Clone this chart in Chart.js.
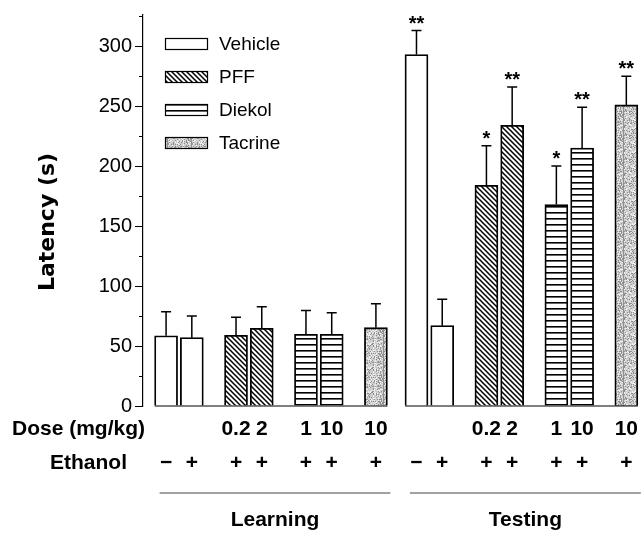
<!DOCTYPE html>
<html>
<head>
<meta charset="utf-8">
<script src="https://cdn.jsdelivr.net/npm/chart.js@4/dist/chart.umd.min.js"></script>
<style>
  html, body { margin: 0; padding: 0; background: #fff; }
</style>
</head>
<body>
<canvas id="latencyChart" width="644" height="533"></canvas>
<script>
var sections = ['Learning', 'Testing'];
var treatments = ['Vehicle', 'PFF', 'Diekol', 'Tacrine'];

// one entry per bar, left to right
var barSection = ['Learning', 'Learning', 'Learning', 'Learning', 'Learning', 'Learning', 'Learning',
                  'Testing', 'Testing', 'Testing', 'Testing', 'Testing', 'Testing', 'Testing'];
var barTreatment = ['Vehicle', 'Vehicle', 'PFF', 'PFF', 'Diekol', 'Diekol', 'Tacrine',
                    'Vehicle', 'Vehicle', 'PFF', 'PFF', 'Diekol', 'Diekol', 'Tacrine'];
var barDose = ['', '', '0.2', '2', '1', '10', '10',
               '', '', '0.2', '2', '1', '10', '10'];
var barEthanol = ['\u2212', '+', '+', '+', '+', '+', '+',
                  '\u2212', '+', '+', '+', '+', '+', '+'];
var latency = [58.6, 57, 59, 64.7, 59.7, 59.7, 65.3,
               293, 67, 184, 234, 168, 215, 251];
var latencySem = [20, 18, 15, 18, 20, 18, 20,
                  20, 22, 33, 32, 32, 34, 24];
var stars = ['', '', '', '', '', '', '',
             '**', '', '*', '**', '*', '**', '**'];
var yTicks = [0, 50, 100, 150, 200, 250, 300];
var yMinorTicks = [25, 75, 125, 175, 225, 275, 325];

// layout
var SECTION_START = { Learning: 0, Testing: 3.58 };
var PAIR_HALF = 0.184;
var BAR_W = 23;
var FONT = "'Liberation Sans', Arial, sans-serif";

function barX(i) {
  var g = treatments.indexOf(barTreatment[i]);
  var first = barTreatment.indexOf(barTreatment[i], barSection.indexOf(barSection[i]));
  var slot = (i === first) ? -PAIR_HALF : PAIR_HALF;
  return SECTION_START[barSection[i]] + g + slot;
}

function makePattern(kind) {
  var c = document.createElement('canvas');
  var g = c.getContext('2d');
  if (kind === 'Vehicle') {
    c.width = c.height = 4;
    g.fillStyle = '#fff'; g.fillRect(0, 0, 4, 4);
  } else if (kind === 'PFF') {
    var s = 5;
    c.width = c.height = s;
    g.fillStyle = '#fff'; g.fillRect(0, 0, s, s);
    g.strokeStyle = '#000'; g.lineWidth = 1.5;
    g.beginPath();
    g.moveTo(-1, -1); g.lineTo(s + 1, s + 1);
    g.moveTo(-1, s - 1); g.lineTo(1, s + 1);
    g.moveTo(s - 1, -1); g.lineTo(s + 1, 1);
    g.stroke();
  } else if (kind === 'Diekol') {
    c.width = 8; c.height = 6;
    g.fillStyle = '#fff'; g.fillRect(0, 0, 8, 6);
    g.fillStyle = '#000'; g.fillRect(0, 2, 8, 1.6);
  } else {
    c.width = c.height = 24;
    g.fillStyle = '#cdcdcd'; g.fillRect(0, 0, 24, 24);
    for (var py = 0; py < 24; py++) {
      for (var px = 0; px < 24; px++) {
        var h = (Math.imul(px + 7, 73856093) ^ Math.imul(py + 3, 19349663)) >>> 0;
        h = (h ^ (h >>> 13)) % 100;
        if (h < 22) { g.fillStyle = '#8f8f8f'; g.fillRect(px, py, 1, 1); }
        else if (h > 80) { g.fillStyle = '#efefef'; g.fillRect(px, py, 1, 1); }
      }
    }
  }
  return document.createElement('canvas').getContext('2d').createPattern(c, 'repeat');
}

var fills = {};
treatments.forEach(function(t) { fills[t] = makePattern(t); });

var datasets = treatments.map(function(t) {
  var pts = [];
  for (var i = 0; i < latency.length; i++) {
    if (barTreatment[i] === t) pts.push({ x: barX(i), y: latency[i], i: i });
  }
  return {
    label: t,
    data: pts,
    backgroundColor: fills[t],
    borderColor: '#000',
    borderWidth: 1.8
  };
});

var extras = {
  id: 'extras',
  afterDatasetsDraw: function(chart) {
    var ctx = chart.ctx, xs = chart.scales.x, ys = chart.scales.y;
    var y0 = ys.getPixelForValue(0);
    ctx.save();
    ctx.strokeStyle = '#000';
    ctx.lineWidth = 1.2;
    // baseline under each section
    sections.forEach(function(s) {
      var first = barSection.indexOf(s), last = barSection.lastIndexOf(s);
      ctx.beginPath();
      ctx.moveTo(xs.getPixelForValue(barX(first)) - BAR_W / 2, y0);
      ctx.lineTo(xs.getPixelForValue(barX(last)) + BAR_W / 2, y0);
      ctx.stroke();
    });
    // error bars and significance marks
    ctx.lineWidth = 1.5;
    ctx.font = 'bold 20px ' + FONT;
    ctx.textAlign = 'center';
    ctx.textBaseline = 'alphabetic';
    ctx.fillStyle = '#000';
    chart.data.datasets.forEach(function(ds, d) {
      chart.getDatasetMeta(d).data.forEach(function(bar, j) {
        var i = ds.data[j].i;
        var top = ys.getPixelForValue(latency[i] + latencySem[i]);
        ctx.beginPath();
        ctx.moveTo(bar.x, bar.y);
        ctx.lineTo(bar.x, top);
        ctx.moveTo(bar.x - 5, top);
        ctx.lineTo(bar.x + 5, top);
        ctx.stroke();
        if (stars[i]) ctx.fillText(stars[i], bar.x, top - 1);
      });
    });
    ctx.restore();
  },
  afterDraw: function(chart) {
    var ctx = chart.ctx, xs = chart.scales.x, ys = chart.scales.y, area = chart.chartArea;
    ctx.save();
    // minor y ticks
    ctx.strokeStyle = '#000';
    ctx.lineWidth = 1;
    yMinorTicks.forEach(function(v) {
      var py = Math.round(ys.getPixelForValue(v)) + 0.5;
      ctx.beginPath();
      ctx.moveTo(area.left - 4, py);
      ctx.lineTo(area.left, py);
      ctx.stroke();
    });
    // section underline and name
    sections.forEach(function(s) {
      var first = barSection.indexOf(s), last = barSection.lastIndexOf(s);
      var l = xs.getPixelForValue(barX(first)) - BAR_W / 2 + 5;
      var r = Math.min(chart.width, xs.getPixelForValue(barX(last)) + BAR_W / 2 + 3);
      var ly = area.bottom + 87;
      ctx.strokeStyle = '#444';
      ctx.beginPath();
      ctx.moveTo(l, ly);
      ctx.lineTo(r, ly);
      ctx.stroke();
      ctx.fillStyle = '#000';
      ctx.font = 'bold 21px ' + FONT;
      ctx.textAlign = 'center';
      ctx.textBaseline = 'middle';
      ctx.fillText(s, (l + r) / 2, area.bottom + 114);
    });
    // legend
    treatments.forEach(function(t, k) {
      var bx = area.left + 22, by = area.top + 23 + k * 33;
      ctx.fillStyle = fills[t];
      ctx.fillRect(bx, by, 43, 12);
      ctx.strokeStyle = '#000';
      ctx.lineWidth = 1.2;
      ctx.strokeRect(bx + 0.5, by + 0.5, 42, 11);
      ctx.fillStyle = '#000';
      ctx.font = '19px ' + FONT;
      ctx.textAlign = 'left';
      ctx.textBaseline = 'middle';
      ctx.fillText(t, bx + 54, by + 7);
    });
    // row titles under the axis
    ctx.font = 'bold 21px ' + FONT;
    ctx.textAlign = 'right';
    ctx.fillText('Dose (mg/kg)', 145, area.bottom + 23);
    ctx.fillText('Ethanol', 127, area.bottom + 57);
    ctx.restore();
  }
};

Chart.defaults.font.family = FONT;
Chart.defaults.color = '#000';

var barPositions = latency.map(function(v, i) { return barX(i); });

new Chart(document.getElementById('latencyChart').getContext('2d'), {
  type: 'bar',
  data: { datasets: datasets },
  options: {
    responsive: false,
    animation: false,
    devicePixelRatio: 1,
    layout: { padding: { top: 15, right: 0, left: 0, bottom: 0 } },
    datasets: { bar: { grouped: false, barThickness: BAR_W } },
    plugins: { legend: { display: false }, tooltip: { enabled: false } },
    scales: {
      x: {
        type: 'linear',
        offset: false,
        bounds: 'data',
        min: -0.514,
        max: 6.62,
        grid: { display: false, drawTicks: false, offset: false },
        border: { display: false },
        afterBuildTicks: function(axis) {
          axis.ticks = barPositions.map(function(v) { return { value: v }; });
        },
        afterFit: function(axis) { axis.height = 127; },
        ticks: {
          autoSkip: false,
          maxRotation: 0,
          minRotation: 0,
          padding: 6,
          font: { size: 21, weight: 'bold', lineHeight: 34 / 21 },
          callback: function(value, index) { return [barDose[index], barEthanol[index]]; }
        }
      },
      y: {
        min: 0,
        max: 326,
        afterBuildTicks: function(axis) {
          axis.ticks = yTicks.map(function(v) { return { value: v }; });
        },
        afterFit: function(axis) { axis.width = 143; },
        grid: { drawOnChartArea: false, tickLength: 8, color: '#000', lineWidth: 1 },
        border: { display: true, color: '#000', width: 1.2 },
        ticks: { padding: 3, font: { size: 20 } },
        title: {
          display: true,
          text: 'Latency (s)   ',
          padding: { top: 35, bottom: 0 },
          font: { family: "'DejaVu Sans', sans-serif", size: 22, weight: 'bold' }
        }
      }
    }
  },
  plugins: [extras]
});
</script>
</body>
</html>
